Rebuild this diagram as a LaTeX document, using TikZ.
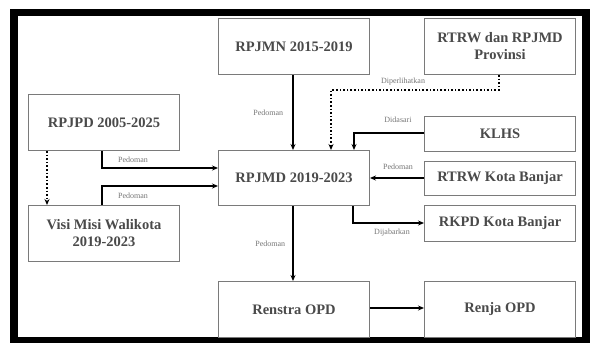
\documentclass[tikz,border=0pt]{standalone}
\usepackage{fontspec}
\setmainfont{Liberation Serif}
\usetikzlibrary{arrows.meta}
\definecolor{txt}{HTML}{4A4A4A}
\definecolor{bord}{HTML}{7A7A7A}
\definecolor{lbl}{HTML}{777777}
\tikzset{
  box/.style={draw=bord, line width=1pt, rectangle, minimum width=151pt, minimum height=#1, text=txt, font=\fontsize{14.5}{17}\selectfont\bfseries, align=center, inner sep=0pt, anchor=north west},
  box/.default=56pt,
  arr/.style={draw=black, line width=1.6pt, -{Stealth[length=6pt,width=5pt]}},
  darr/.style={draw=black, line width=1.6pt, dotted, -{Stealth[length=6pt,width=5pt]}},
  lab/.style={text=lbl, font=\fontsize{8}{9}\selectfont, inner sep=1pt}
}
\begin{document}
\begin{tikzpicture}[x=1pt,y=-1pt]
\useasboundingbox (0,0) rectangle (595,343);
\fill[white] (0,0) rectangle (595,343);
\draw[line width=7.5pt] (14,12.5) rectangle (586,341);
% boxes
\node[box] (rpjmn) at (218,18) {RPJMN 2015-2019};
\node[box] (prov) at (424,18) {RTRW dan RPJMD\\Provinsi};
\node[box] (rpjpd) at (28,94) {RPJPD 2005-2025};
\node[box=55pt] (rpjmd) at (218,150) {RPJMD 2019-2023};
\node[box=35pt] (klhs) at (424,116) {KLHS};
\node[box=34pt] (rtrw) at (424,161) {RTRW Kota Banjar};
\node[box=36pt] (rkpd) at (424,205) {RKPD Kota Banjar};
\node[box] (visi) at (28,205) {Visi Misi Walikota\\2019-2023};
\node[box] (renstra) at (218,281) {Renstra OPD};
\node[box] (renja) at (424,281) {Renja OPD};
% coordinates
\coordinate (c1) at (499,90);
\coordinate (c2) at (331,90);
\coordinate (c3) at (354,133);
\coordinate (c4) at (353,223);
\coordinate (c5) at (102,168);
\coordinate (c6) at (102,186);
% connectors
\draw[arr] (rpjmn.south -| 293,0) -- (rpjmd.north -| 293,0) node[lab, midway, left=8pt] {Pedoman};
\draw[darr] (prov.south -| c1) -- (c1) -- (c2) -- (rpjmd.north -| c2);
\node[lab] at (403,82) {Diperlihatkan};
\draw[arr] (klhs.west |- c3) -- (c3) -- (rpjmd.north -| c3);
\node[lab] at (398,120) {Didasari};
\draw[arr] (rtrw.west |- 0,178) -- (rpjmd.east |- 0,178);
\node[lab] at (398,167) {Pedoman};
\draw[arr] (rpjmd.south -| c4) -- (c4) -- (rkpd.west |- c4);
\node[lab] at (392,233) {Dijabarkan};
\draw[arr] (rpjpd.south -| c5) -- (c5) -- (rpjmd.west |- c5);
\node[lab] at (133,160) {Pedoman};
\draw[arr] (visi.north -| c6) -- (c6) -- (rpjmd.west |- c6);
\node[lab] at (133,196) {Pedoman};
\draw[darr] (rpjpd.south -| 47,0) -- (visi.north -| 47,0);
\draw[arr] (rpjmd.south -| 293,0) -- (renstra.north -| 293,0) node[lab, midway, left=6pt] {Pedoman};
\draw[arr] (renstra.east |- 0,308) -- (renja.west |- 0,308);
\end{tikzpicture}
\end{document}
